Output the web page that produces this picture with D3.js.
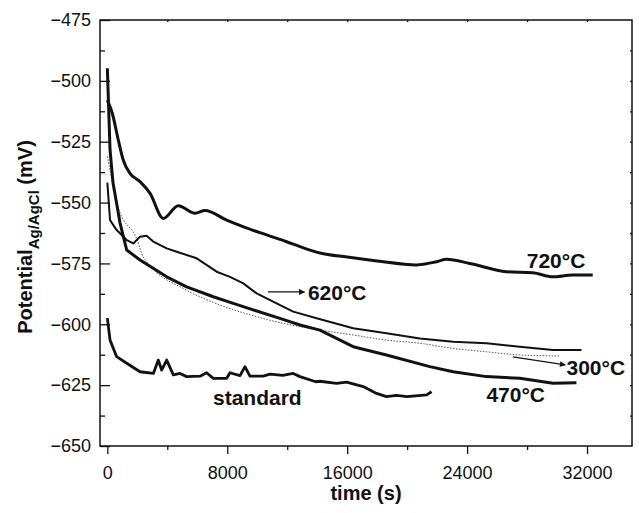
<!DOCTYPE html>
<html>
<head>
<meta charset="utf-8">
<script src="https://cdn.jsdelivr.net/npm/d3@7"></script>
<style>
  body { margin: 0; background: #fff; }
  svg { display: block; font-family: "Liberation Sans", Arial, Helvetica, sans-serif; }
  .tick text { font-size: 18px; fill: #111; }
  .lab { font-weight: bold; fill: #111; }
</style>
</head>
<body>
<svg id="chart" width="639" height="513"></svg>
<script>
// open-circuit potential vs time
const t720 = [0, 330, 730, 1060, 1510, 2180, 2850, 3730, 4730, 5850, 6510, 7960, 9050, 10630, 11960, 12850, 14180, 16000, 18000, 20630, 21960, 22630, 24180, 26630, 28380, 29710, 31050, 32380];
const v720 = [-507.9, -513.3, -524.3, -532.5, -538, -541.4, -546.2, -556.5, -551.3, -554.4, -553.3, -557.2, -559.9, -563.3, -566.1, -568.1, -570.7, -572.4, -574, -575.6, -574.3, -573.3, -575, -578.4, -578.8, -580.5, -579.8, -579.8];

const t620 = [0, 180, 620, 1290, 1730, 2180, 2620, 3060, 3960, 4630, 5960, 7290, 8180, 9070, 9960, 11290, 12400, 13960, 16400, 18620, 20850, 23070, 25290, 27510, 29730, 31630];
const v620 = [-541.8, -557.2, -561.3, -565.4, -566.8, -564, -563.6, -566, -568.8, -570.2, -572.9, -578.4, -580.5, -583.2, -587.3, -591.4, -594.8, -597.5, -601.6, -603.7, -605.8, -607.2, -607.8, -609.2, -610.6, -610.6];

const t470 = [0, 180, 380, 847, 1293, 2180, 3960, 5290, 7070, 8400, 9730, 11510, 12850, 14180, 16400, 18620, 21510, 23070, 25290, 27510, 29730, 31290];
const v470 = [-494.8, -528.4, -542, -558.4, -569.5, -573.6, -580.5, -584.6, -588.7, -591.4, -594.1, -597.6, -600.3, -602.4, -609.2, -612.6, -617.4, -619.5, -621.5, -622.2, -624.2, -624];

const t300 = [0, 720, 2000, 2400, 5290, 7070, 9730, 12850, 14180, 16400, 18620, 20850, 23050, 25290, 27510, 30180];
const v300 = [-531, -551.8, -565.4, -572.4, -586, -591, -596.5, -601, -602.4, -604.4, -606.5, -607.8, -609.9, -611.3, -612.6, -613];

const tStd = [0, 180, 620, 1290, 2180, 3070, 3400, 3620, 3960, 4400, 4850, 5290, 6180, 6620, 7070, 7960, 8180, 8850, 9180, 9510, 10400, 10850, 11700, 12400, 12850, 13900, 14180, 15290, 15960, 17070, 17960, 18620, 19290, 20000, 21300, 21630];
const vStd = [-597.5, -606.5, -613.3, -616, -619.5, -620.2, -614.7, -618.8, -614.7, -620.8, -620.2, -621.5, -621.3, -619.9, -622.2, -622.2, -619.9, -621.1, -617.4, -621.3, -621.3, -620.5, -621, -620.2, -621.5, -623.6, -623.4, -624.3, -623.8, -625.6, -628.4, -629.7, -629.2, -629.7, -629, -627.7];

const xMajor = [0, 8000, 16000, 24000, 32000];
const yMajor = [-650, -625, -600, -575, -550, -525, -500, -475];

// annotation text: [label, t, mV]
const labels = [["720°C", 27980, -576.9], ["620°C", 13380, -590], ["300°C", 30630, -620.8], ["470°C", 25290, -631.9], ["standard", 7050, -633.2]];
// arrows: [t0, v0, t1, v1]
const arrows = [[10710, -586.7, 13150, -586.7], [27050, -613.4, 30550, -616.7]];

const svg = d3.select("#chart");
const L = 100, R = 632, T = 20, B = 446;

const x = d3.scaleLinear().domain([-490, 35000]).range([L, R]);
const y = d3.scaleLinear().domain([-650, -475]).range([B, T]);

const minorX = d3.range(4000, 35000, 4000).filter(d => d % 8000 !== 0);
const minorY = d3.range(-637.5, -475, 25);

// bottom axis
svg.append("g").attr("transform", `translate(0,${B})`)
    .call(d3.axisBottom(x).tickValues(xMajor).tickSize(8).tickPadding(12).tickFormat(d3.format("d")))
    .call(g => g.select(".domain").remove());
svg.append("g").attr("transform", `translate(0,${B})`)
    .call(d3.axisBottom(x).tickValues(minorX).tickSize(4).tickFormat(""))
    .call(g => g.select(".domain").remove());
// top axis, small inward ticks
svg.append("g").attr("transform", `translate(0,${T})`)
    .call(d3.axisBottom(x).tickValues(d3.range(4000, 35000, 4000)).tickSize(2).tickFormat(""))
    .call(g => g.select(".domain").remove());

// left axis, inward ticks
svg.append("g").attr("transform", `translate(${L},0)`)
    .call(d3.axisLeft(y).tickValues(yMajor).tickSize(-10).tickPadding(9))
    .call(g => g.select(".domain").remove());
svg.append("g").attr("transform", `translate(${L},0)`)
    .call(d3.axisLeft(y).tickValues(minorY).tickSize(-5).tickFormat(""))
    .call(g => g.select(".domain").remove());
// right axis
svg.append("g").attr("transform", `translate(${R},0)`)
    .call(d3.axisRight(y).tickValues(d3.range(-637.5, -475, 12.5)).tickSize(-2).tickFormat(""))
    .call(g => g.select(".domain").remove());

svg.selectAll(".tick line").attr("stroke", "#111").attr("stroke-width", 1.3);

svg.append("rect")
    .attr("x", L).attr("y", T).attr("width", R - L).attr("height", B - T)
    .attr("fill", "none").attr("stroke", "#111").attr("stroke-width", 1.5);

// curves
const line = d3.line().x(d => x(d[0])).y(d => y(d[1]));
const smooth = d3.line().x(d => x(d[0])).y(d => y(d[1])).curve(d3.curveMonotoneX);
const zip = (a, b) => a.map((t, i) => [t, b[i]]);

const series = [
    { d: zip(t300, v300), w: 1, c: "#555", dash: "1.5,1.5", gen: smooth },
    { d: zip(t620, v620), w: 2, c: "#111", gen: line },
    { d: zip(t470, v470), w: 3, c: "#111", gen: line },
    { d: zip(t720, v720), w: 3, c: "#111", gen: smooth },
    { d: zip(tStd, vStd), w: 2.8, c: "#111", gen: line }
];

svg.selectAll("path.curve")
    .data(series)
    .join("path")
    .attr("class", "curve")
    .attr("fill", "none")
    .attr("stroke", s => s.c)
    .attr("stroke-width", s => s.w)
    .attr("stroke-dasharray", s => s.dash || null)
    .attr("stroke-linejoin", "round")
    .attr("d", s => s.gen(s.d));

// arrows
svg.append("defs").append("marker")
    .attr("id", "head").attr("viewBox", "0 0 10 10")
    .attr("refX", 9).attr("refY", 5)
    .attr("markerWidth", 8).attr("markerHeight", 6)
    .attr("markerUnits", "userSpaceOnUse")
    .attr("orient", "auto")
    .append("path").attr("d", "M0,0L10,5L0,10Z").attr("fill", "#111");

svg.selectAll("line.arrow")
    .data(arrows)
    .join("line")
    .attr("class", "arrow")
    .attr("x1", d => x(d[0])).attr("y1", d => y(d[1]))
    .attr("x2", d => x(d[2])).attr("y2", d => y(d[3]))
    .attr("stroke", "#111").attr("stroke-width", 1.2)
    .attr("marker-end", "url(#head)");

svg.selectAll("text.ann")
    .data(labels)
    .join("text")
    .attr("class", "ann lab")
    .attr("x", d => x(d[1])).attr("y", d => y(d[2]))
    .attr("font-size", 21)
    .text(d => d[0]);

// axis titles
svg.append("text").attr("class", "lab")
    .attr("x", (L + R) / 2).attr("y", 500)
    .attr("text-anchor", "middle").attr("font-size", 20)
    .text("time (s)");

const yt = svg.append("text").attr("class", "lab")
    .attr("transform", `translate(32,${(T + B) / 2 + 4}) rotate(-90)`)
    .attr("text-anchor", "middle").attr("font-size", 20);
yt.append("tspan").text("Potential");
yt.append("tspan").attr("font-size", 15).attr("dy", 7).text("Ag/AgCl");
yt.append("tspan").attr("dy", -7).text(" (mV)");
</script>
</body>
</html>
